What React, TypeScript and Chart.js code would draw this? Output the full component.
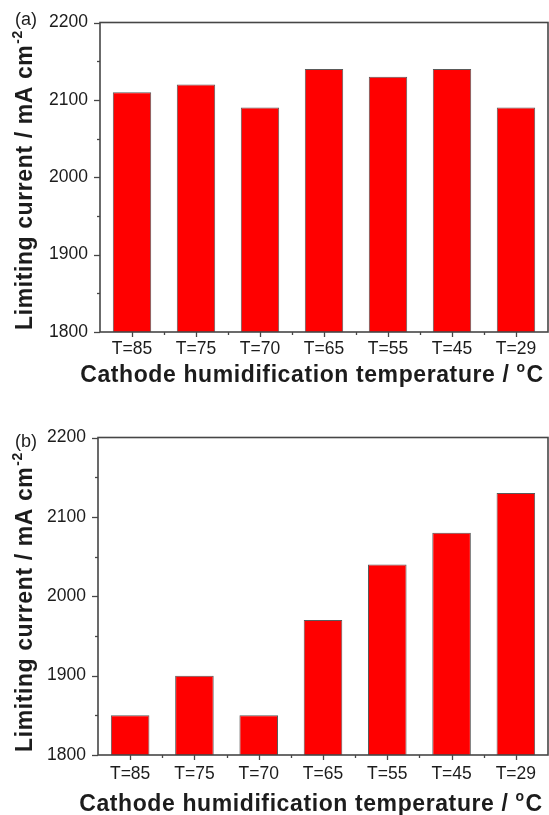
import React, { useEffect, useRef } from 'react';
import { Chart, registerables } from 'chart.js';

Chart.register(...registerables);

// ---- data ----
const categories = ['T=85', 'T=75', 'T=70', 'T=65', 'T=55', 'T=45', 'T=29'];
const currentA = [2110, 2120, 2090, 2140, 2130, 2140, 2090];
const currentB = [1850, 1900, 1850, 1970, 2040, 2080, 2130];
const yMin = 1800;
const yMax = 2200;
const yMajorStep = 100;
const yMinorStep = 50;
const panelLabels = ['(a)', '(b)'];
const yTitleMain = 'Limiting current / mA cm';
const yTitleSup = '-2';
const xTitleMain = 'Cathode humidification temperature / ';
const xTitleSup = 'o';
const xTitleEnd = 'C';

// ---- styles ----
const FONT = "'Liberation Sans', Arial, Helvetica, sans-serif";
const INK = '#1c1c1c';
const FRAME = '#464646';
const BAR_FILL = '#ff0000';
const BAR_EDGE = '#5a5a5a';

type PanelCfg = {
  label: string;
  values: number[];
  canvasHeight: number;
  left: number;
  top: number;
  bottom: number;
  tickPad: number;
  labelY: number;
  xTitleBaseline: number;
  yTitleBottom: number;
};

const panels: PanelCfg[] = [
  {
    label: panelLabels[0],
    values: currentA,
    canvasHeight: 400,
    left: 100,
    top: 16,
    bottom: 332,
    tickPad: 7,
    labelY: 20,
    xTitleBaseline: 382,
    yTitleBottom: 330,
  },
  {
    label: panelLabels[1],
    values: currentB,
    canvasHeight: 415,
    left: 98,
    top: 37.5,
    bottom: 355,
    tickPad: 9,
    labelY: 42,
    xTitleBaseline: 411,
    yTitleBottom: 352,
  },
];

const WIDTH = 549;

function decorPlugin(cfg: PanelCfg) {
  return {
    id: 'decor',
    afterDraw(chart: any) {
      const { ctx, chartArea: a } = chart;
      const x = chart.scales.x;
      const y = chart.scales.y;
      const line = (x1: number, y1: number, x2: number, y2: number) => {
        ctx.beginPath();
        ctx.moveTo(x1, y1);
        ctx.lineTo(x2, y2);
        ctx.stroke();
      };
      ctx.save();
      ctx.strokeStyle = FRAME;
      ctx.lineWidth = 1.3;
      // y ticks (major + minor, outward)
      for (let v = yMin; v <= yMax; v += yMinorStep) {
        const py = Math.round(y.getPixelForValue(v)) + 0.5;
        const len = (v - yMin) % yMajorStep === 0 ? 6 : 3;
        line(a.left - len, py, a.left, py);
      }
      // x ticks: major at categories, minor at boundaries
      for (let i = 0; i < categories.length; i++) {
        const px = Math.round(x.getPixelForValue(i)) + 0.5;
        line(px, a.bottom, px, a.bottom + 5);
      }
      for (let i = 1; i < categories.length; i++) {
        const px = Math.round((x.getPixelForValue(i - 1) + x.getPixelForValue(i)) / 2) + 0.5;
        line(px, a.bottom, px, a.bottom + 3);
      }
      // frame
      ctx.lineWidth = 1.6;
      ctx.strokeRect(a.left, a.top, a.right - a.left, a.bottom - a.top);

      // panel label
      ctx.fillStyle = INK;
      ctx.font = `18px ${FONT}`;
      ctx.textAlign = 'left';
      ctx.textBaseline = 'middle';
      ctx.fillText(cfg.label, 15, cfg.labelY);

      // x-axis title with superscript degree "o"
      ctx.textBaseline = 'alphabetic';
      const big = `bold 23px ${FONT}`;
      const small = `bold 14px ${FONT}`;
      (ctx as any).letterSpacing = '0.6px';
      ctx.font = big;
      const wMain = ctx.measureText(xTitleMain).width;
      ctx.font = small;
      const wSup = ctx.measureText(xTitleSup).width;
      ctx.font = big;
      const wEnd = ctx.measureText(xTitleEnd).width;
      const total = wMain + wSup + 1 + wEnd;
      let sx = (a.left + a.right) / 2 - total / 2 - 12;
      ctx.fillText(xTitleMain, sx, cfg.xTitleBaseline);
      sx += wMain;
      ctx.font = small;
      ctx.fillText(xTitleSup, sx, cfg.xTitleBaseline - 10);
      sx += wSup + 1;
      ctx.font = big;
      ctx.fillText(xTitleEnd, sx, cfg.xTitleBaseline);

      // y-axis title rotated, with superscript "-2"
      ctx.save();
      ctx.translate(32, cfg.yTitleBottom);
      ctx.rotate(-Math.PI / 2);
      ctx.font = big;
      const wy = ctx.measureText(yTitleMain).width;
      ctx.fillText(yTitleMain, 0, 0);
      ctx.font = small;
      ctx.fillText(yTitleSup, wy + 1, -10);
      ctx.restore();
      (ctx as any).letterSpacing = '0px';

      ctx.restore();
    },
  };
}

function Panel({ cfg }: { cfg: PanelCfg }) {
  const ref = useRef<HTMLCanvasElement | null>(null);
  useEffect(() => {
    if (!ref.current) return;
    const chart = new Chart(ref.current, {
      type: 'bar',
      data: {
        labels: categories,
        datasets: [
          {
            data: cfg.values,
            backgroundColor: BAR_FILL,
            borderColor: BAR_EDGE,
            borderWidth: 1,
            categoryPercentage: 1,
            barPercentage: 0.6,
          },
        ],
      },
      options: {
        responsive: false,
        animation: false,
        devicePixelRatio: 1,
        layout: { padding: { top: cfg.top, right: WIDTH - 548, left: 0, bottom: 0 } },
        plugins: { legend: { display: false }, tooltip: { enabled: false }, title: { display: false } },
        scales: {
          x: {
            type: 'category',
            offset: true,
            grid: { display: false, drawTicks: false },
            border: { display: false },
            ticks: {
              color: INK,
              font: { family: FONT, size: 17.5 },
              padding: cfg.tickPad,
              maxRotation: 0,
              autoSkip: false,
            },
            afterFit(scale: any) {
              scale.height = cfg.canvasHeight - cfg.bottom;
            },
          },
          y: {
            type: 'linear',
            min: yMin,
            max: yMax,
            grid: { display: false, drawTicks: false },
            border: { display: false },
            ticks: {
              stepSize: yMajorStep,
              color: INK,
              font: { family: FONT, size: 17.5 },
              padding: 12,
              callback: (v: any) => String(v),
            },
            afterFit(scale: any) {
              scale.width = cfg.left;
            },
          },
        },
      },
      plugins: [decorPlugin(cfg)],
    });
    return () => chart.destroy();
  }, [cfg]);
  return (
    <canvas
      ref={ref}
      width={WIDTH}
      height={cfg.canvasHeight}
      style={{ display: 'block', width: WIDTH, height: cfg.canvasHeight }}
    />
  );
}

export default function App() {
  return (
    <div style={{ position: 'absolute', left: 0, top: 0, width: WIDTH, height: 815, background: '#fff' }}>
      {panels.map((p) => (
        <Panel key={p.label} cfg={p} />
      ))}
    </div>
  );
}
